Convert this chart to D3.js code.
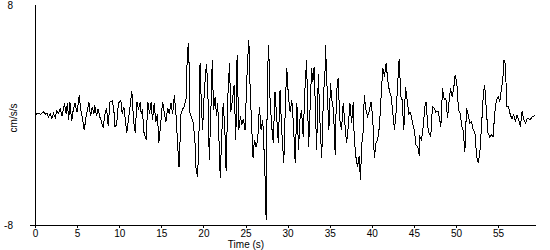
<!DOCTYPE html>
<html>
<head>
<meta charset="utf-8">
<script src="https://cdn.jsdelivr.net/npm/d3@7"></script>
<style>
  body { margin: 0; background: #fff; }
  text { font-family: "Liberation Sans", Arial, sans-serif; font-size: 10px; fill: #000; }
</style>
</head>
<body>
<div id="chart"></div>
<script>
// time in seconds
const times = [
  0, 0.4, 0.7, 1.0, 1.2, 1.4, 1.6, 1.8, 2.0, 2.2, 2.4, 2.6, 2.8, 3.0, 3.2, 3.5, 3.7, 3.85, 4.0, 4.15,
  4.35, 4.55, 4.75, 5.0, 5.25, 5.45, 5.65, 5.85, 6.05, 6.25, 6.4, 6.6, 6.8, 7.0, 7.1, 7.3, 7.5, 7.7, 7.9, 8.1,
  8.3, 8.5, 8.7, 8.9, 9.2, 9.4, 9.5, 9.7, 9.9, 10.2, 10.35, 10.55,
  10.9, 11.2, 11.5, 11.7, 11.9, 12.1, 12.3, 12.5, 12.6, 12.75, 12.95, 13.2, 13.4, 13.6, 13.8, 13.95, 14.15, 14.35,
  14.55, 14.7, 14.9, 15.15, 15.35, 15.55, 15.75, 15.95, 16.15, 16.35, 16.55, 16.75, 16.95, 17.1, 17.2, 17.3, 17.5, 17.7, 17.95, 18.1,
  18.25, 18.4, 18.6, 18.8, 19.0, 19.1, 19.3, 19.45, 19.6, 19.75, 19.9, 20.1, 20.35, 20.5, 20.7,
  20.9, 21.05, 21.2, 21.4, 21.55, 21.7, 21.85, 22.0, 22.15, 22.35, 22.55, 22.7, 22.9, 23.1, 23.25, 23.45, 23.65, 23.85, 24.0, 24.2,
  24.4, 24.55, 24.75, 24.95, 25.15, 25.25, 25.4, 25.55, 25.75, 25.9, 26.05, 26.25, 26.45, 26.65, 26.85, 27.05, 27.15, 27.3, 27.45, 27.6,
  27.75, 27.9, 28.1, 28.3, 28.5, 28.7, 28.9, 29.1, 29.3, 29.55, 29.75, 29.9, 30.1, 30.3, 30.5, 30.7, 30.9, 31.1, 31.3, 31.45,
  31.65, 31.85, 32.05, 32.25, 32.5, 32.85, 33.0, 33.15, 33.45, 33.65, 33.85, 34.05, 34.25, 34.45, 34.5, 34.7, 34.9, 35.1, 35.25, 35.45,
  35.65, 35.8, 36.0, 36.2, 36.4, 36.6, 36.8, 37.0, 37.2, 37.4, 37.6, 37.8, 37.9, 38.1, 38.3, 38.5, 38.65, 38.8, 39.0, 39.1,
  39.3, 39.5, 39.7, 39.9, 40.1, 40.3, 40.5, 40.7, 40.9, 41.1, 41.3, 41.5, 41.7, 41.9, 42.1, 42.3, 42.5, 42.7, 42.9, 43.1,
  43.25, 43.45, 43.6, 43.8, 44.0, 44.2, 44.4, 44.6, 44.85, 45.05, 45.25, 45.45, 45.65, 45.7, 45.9, 46.1, 46.3, 46.45, 46.65, 46.8,
  47.0, 47.2, 47.4, 47.6, 47.85, 48.0, 48.2, 48.4, 48.6, 48.8, 49.0, 49.15, 49.35, 49.55, 49.75, 49.9, 50.1, 50.3, 50.5, 50.7,
  50.85, 51.05, 51.25, 51.45, 51.65, 51.85, 52.05, 52.25, 52.45, 52.65, 52.85, 53.05, 53.25, 53.4, 53.6, 53.8, 54.0, 54.2, 54.4, 54.6,
  54.8, 55.0, 55.2, 55.35, 55.55, 55.7, 55.85, 56.05, 56.25, 56.45, 56.65, 56.85, 57.05, 57.25, 57.45, 57.65, 57.85, 58.05, 58.25, 58.45,
  58.6, 58.8, 59.0, 59.2, 59.4
];

// acceleration, cm/s/s
const accel = [
  0.05, 0.1, 0.05, 0.25, 0.05, 0.15, -0.15, 0.1, -0.25, 0.1, -0.2, 0.3, 0.1, 0.45, -0.1, 0.85, 0.1, 0.9, -0.35, 0.95,
  -0.45, 0.4, 0.85, 0.2, 1.45, 0.3, -0.3, -1.1, -0.2, 0.4, 0.95, -0.1, 0.6, 0.1, 0.7, -0.1, 0.45, -0.15, -0.5, -0.95,
  0.05, 0.5, -0.8, 0.95, 1.05, 0.1, -0.85, -0.7, 0.85, 1.05, 0.1, 0.6,
  -1.3, 0.15, 1.75, -0.36, -1.3, 0.97, 0.4, 0.97, 0.1, 0.4, -1.3, -1.8, 0.97, 0.1, 0.97, -0.36, 0.85, -0.5,
  0.1, -2.06, -0.85, 0.97, 0.2, -0.5, 0.5, 0.1, 0.85, 0.1, 1.45, 0, -2.3, -3.8, -2.5, 0, 0.4, 0.6, 1.2, 4.7,
  5.2, 0.15, -0.2, -0.6, -2.0, -3.8, -4.5, -2.3, 3.8, 0.9, -1.1, 1.6, 3.7, 2.5, -3.3,
  0.6, 4.0, 0.4, 1.33, -0.1, 0.87, -1.8, -4.6, -1.8, 0.87, -1.1, -4.1, 1.33, 3.76, 0.2, 1.1, 2.2, -1.8, 4.36, -1.1,
  -0.1, -0.75, -0.3, -1.1, 2.5, 4.0, 5.45, 1.94, -1.1, -3.15, -1.8, -2.3, -1.8, 0.6, -1.1, -0.36, -1.8, -4.0, -7.6, 2.8,
  5.1, 1.33, -0.75, -2.0, 1.7, -0.1, -2.06, 1.8, -1.1, -3.5, 1.1, 3.4, 1.33, 0.2, 1.1, -0.75, -3.5, 0.87, -2.55, -0.36,
  0.36, -1.6, 1.8, 4.0, -2.3, 3.4, 2.4, 3.5, -2.55, 3.0, -0.6, -3.15, 1.33, 3.3, 5.1, 1.8, -1.1, 2.3, 1.1, 0.36,
  -2.9, 1.58, 2.67, -0.36, -1.1, 0.85, -0.6, -2.06, -0.85, 0.85, -0.6, 0.97, -1.5, -3.0, -3.76, -3.0, -4.7, -2.2, -1.1, 1.45,
  0.36, -0.1, 0.3, 0.97, -0.1, -3.15, -2.06, -1.8, -0.85, 1.33, 3.4, 2.8, 3.76, 2.5, 1.7, 1.33, 0.1, -1.1, 0.36, 2.55,
  4.1, 1.33, 1.1, -1.1, 2.06, 1.1, 0.1, 0.2, -0.6, -1.1, -2.2, -2.3, -3.0, -1.58, -1.8, -0.85, 0.6, 0.97, -0.85, -1.3,
  -1.58, 0.6, 0.5, 0.2, 0.3, -0.1, -0.85, 1.94, 1.1, 1.2, -0.25, 0.85, 1.94, 1.33, 2.06, 2.9, 2.3, 0.36, 0.1, -0.85,
  -1.1, -2.67, 0.5, 0, -0.6, -0.5, -1.1, -1.3, -3.0, -3.5, -2.55, -0.6, 1.58, 2.2, 0.36, -1.3, -1.58, -1.45, -1.58, 0.1,
  1.1, 1.33, 0.97, 1.7, 2.55, 4.0, 3.76, 0.6, 0.6, 0, -0.25, 0, -0.5, 0, -0.36, -0.85, 0.25, -0.36, -0.6, -0.25,
  -0.25, -0.36, -0.15, -0.1, -0.05
];

const xTicks = [0, 5, 10, 15, 20, 25, 30, 35, 40, 45, 50, 55];
const yTicks = [-8, 8];

const W = 550, H = 250;
const margin = {top: 5, right: 14, bottom: 25, left: 35};

const x = d3.scaleLinear().domain([0, 59.5]).range([margin.left, W - margin.right]);
const y = d3.scaleLinear().domain([-8, 8]).range([H - margin.bottom, margin.top]);

const svg = d3.select("#chart").append("svg")
    .attr("width", W)
    .attr("height", H);

const data = times.map((t, i) => ({t: t, v: accel[i]}));

// trace
svg.append("path")
    .datum(data)
    .attr("fill", "none")
    .attr("stroke", "#000")
    .attr("stroke-width", 1)
    .attr("shape-rendering", "crispEdges")
    .attr("d", d3.line().x(d => x(d.t)).y(d => y(d.v)));

// x axis
const xAxis = svg.append("g")
    .attr("transform", "translate(0," + y(-8) + ")")
    .call(d3.axisBottom(x).tickValues(xTicks).tickSize(3).tickPadding(1.5).tickFormat(d => String(d)));
xAxis.select(".domain").remove();
xAxis.selectAll("line").attr("shape-rendering", "crispEdges");
xAxis.selectAll("text").style("font-size", "10px").attr("font-family", null);

svg.append("line")
    .attr("x1", margin.left - 5).attr("x2", x(59.5))
    .attr("y1", y(-8) + 0.5).attr("y2", y(-8) + 0.5)
    .attr("stroke", "#000");

// y axis
svg.append("line")
    .attr("x1", margin.left + 0.5).attr("x2", margin.left + 0.5)
    .attr("y1", y(8)).attr("y2", y(-8))
    .attr("stroke", "#000");

const yAxis = svg.append("g")
    .attr("transform", "translate(" + margin.left + ",0)")
    .call(d3.axisLeft(y).tickValues(yTicks).tickSize(0).tickPadding(22).tickFormat(d => String(d)));
yAxis.select(".domain").remove();
yAxis.selectAll("text").style("font-size", "10px").attr("font-family", null);

svg.append("text")
    .attr("x", 246).attr("y", 247.5)
    .attr("text-anchor", "middle")
    .text("Time (s)");

svg.append("text")
    .attr("transform", "translate(17,118) rotate(-90)")
    .attr("text-anchor", "middle")
    .text("cm/s/s");
</script>
</body>
</html>
